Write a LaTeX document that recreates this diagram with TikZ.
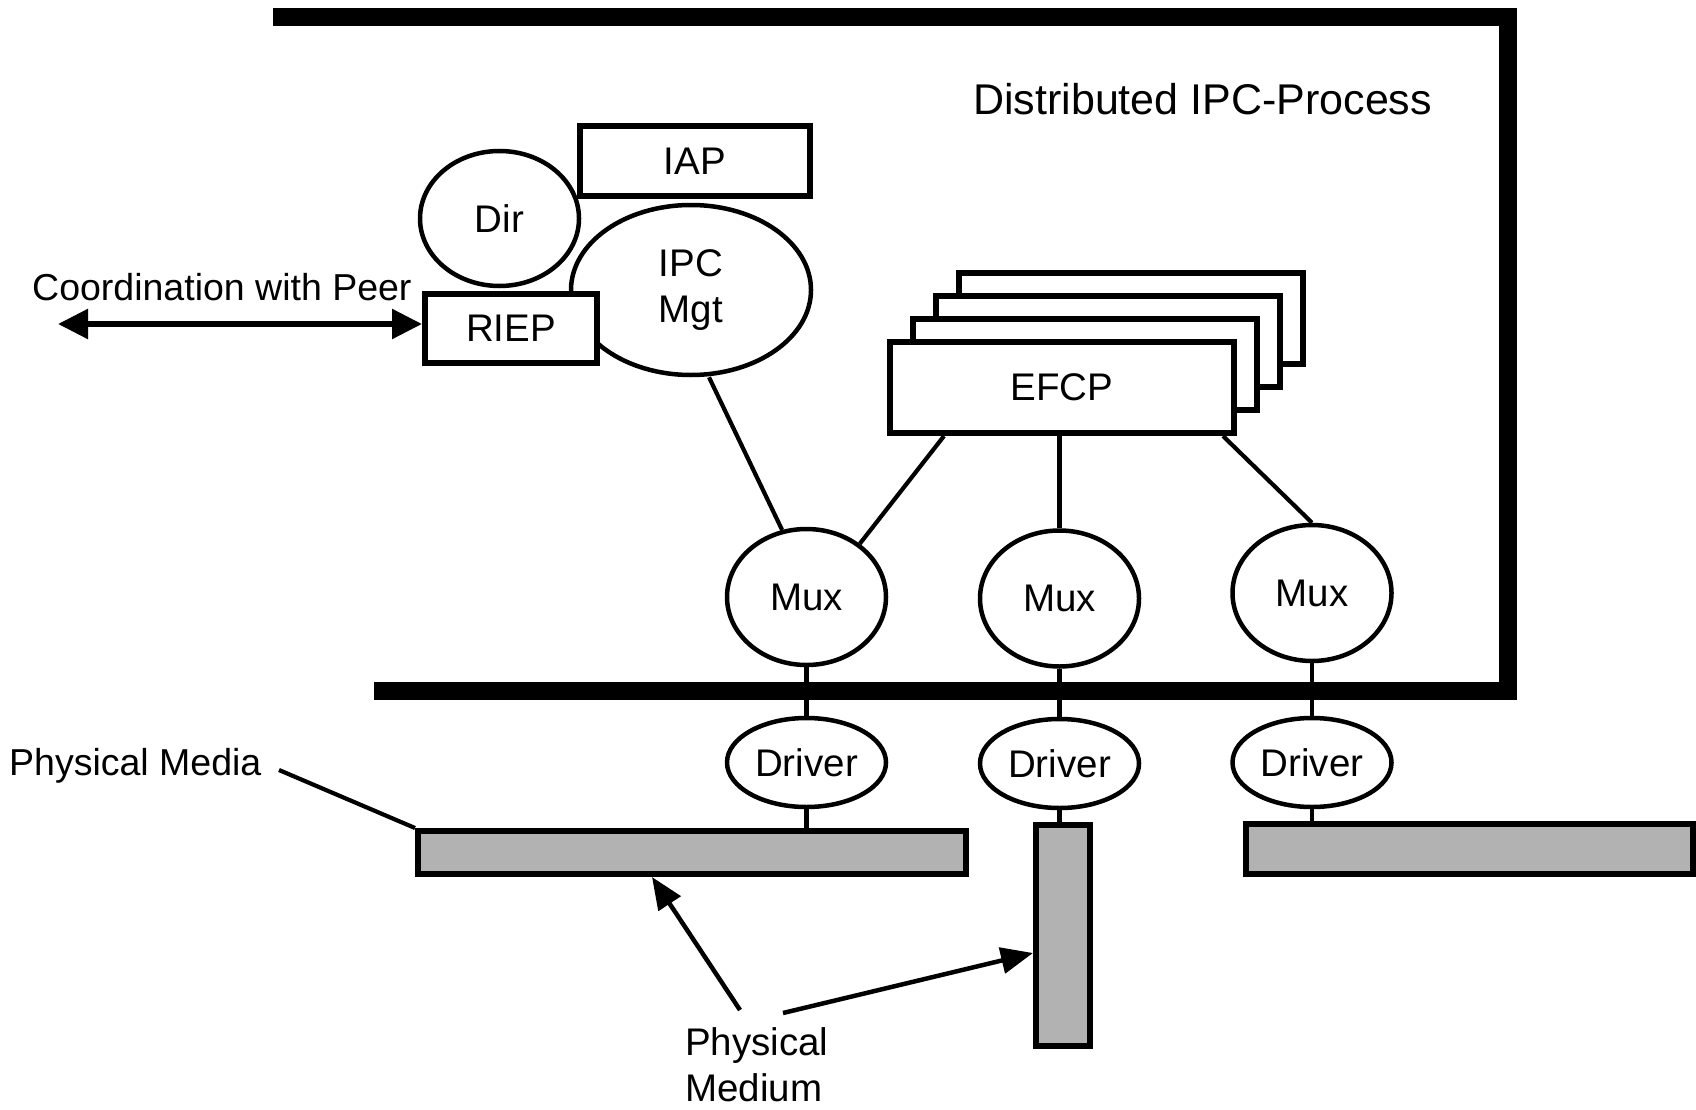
\documentclass[tikz,border=0pt]{standalone}
\usepackage{fontspec}
\setmainfont{Liberation Sans}
\usetikzlibrary{arrows.meta,shapes.geometric}
\begin{document}
\begin{tikzpicture}[x=1pt,y=-1pt,
  txt/.style={font=\fontsize{38.5}{46}\selectfont, inner sep=0pt},
  smalltxt/.style={font=\fontsize{37.5}{46}\selectfont, inner sep=0pt},
  bigtxt/.style={font=\fontsize{43}{50}\selectfont, inner sep=0pt},
  bx/.style={draw, line width=6pt, fill=white, inner sep=0pt, font=\fontsize{38.5}{46}\selectfont},
  ell/.style={draw, ellipse, line width=4.5pt, fill=white, inner sep=0pt, align=center, font=\fontsize{38.5}{46}\selectfont},
  medium/.style={draw, line width=6pt, fill=black!30, inner sep=0pt},
  conn/.style={line width=4.2pt},
  bar/.style={line width=17.5pt, line join=miter},
  pointer/.style={line width=4.5pt, -{Triangle[length=32pt,width=26pt]}},
  dblarrow/.style={line width=5.5pt, {Triangle[length=30pt,width=29pt]}-{Triangle[length=30pt,width=29pt]}},
]
\useasboundingbox (0,0) rectangle (1696,1110);

% process boundary
\draw[bar] (273,17) -- (1508,17) -- (1508,691) -- (374,691);

% labels
\node[bigtxt, anchor=base west] (title) at (973,115) {Distributed IPC-Process};
\node[smalltxt, anchor=base west] (coord) at (32,300) {Coordination with Peer};
\node[smalltxt, anchor=base west] (pmedia) at (9,775) {Physical Media};
\node[txt, anchor=north west, align=left] (pmedium) at (685,1027) {Physical\\Medium};

% management nodes
\node[ell, minimum width=159pt, minimum height=135pt] (dir) at (499.5,218.5) {Dir};
\node[ell, minimum width=240pt, minimum height=170pt] (ipc) at (691,290) {IPC\\Mgt};
\node[bx, minimum width=230pt, minimum height=70pt] (iap) at (695,161) {IAP};
\node[bx, minimum width=172pt, minimum height=69pt] (riep) at (511,328.5) {RIEP};

% EFCP stack
\node[bx, minimum width=344pt, minimum height=91pt] (efcp4) at (1131,318.5) {};
\node[bx, minimum width=344pt, minimum height=91pt] (efcp3) at (1108,341.5) {};
\node[bx, minimum width=344pt, minimum height=91pt] (efcp2) at (1085,364.5) {};
\node[bx, minimum width=344pt, minimum height=91pt] (efcp) at (1062,387.5) {EFCP};

% Mux and drivers
\node[ell, minimum width=159pt, minimum height=136pt] (mux1) at (806.5,597) {Mux};
\node[ell, minimum width=159pt, minimum height=136pt] (mux2) at (1059.5,598.5) {Mux};
\node[ell, minimum width=159pt, minimum height=136pt] (mux3) at (1312,593) {Mux};
\node[ell, minimum width=159pt, minimum height=89pt] (drv1) at (806.5,762.5) {Driver};
\node[ell, minimum width=159pt, minimum height=89pt] (drv2) at (1059.5,763.5) {Driver};
\node[ell, minimum width=159pt, minimum height=89pt] (drv3) at (1312,762.5) {Driver};

% physical media
\node[medium, minimum width=548pt, minimum height=43pt] (m1) at (692,852.5) {};
\node[medium, minimum width=54pt, minimum height=221pt] (m2) at (1063,935.5) {};
\node[medium, minimum width=447pt, minimum height=50pt] (m3) at (1469.5,849) {};

% connectors
\draw[conn] ([xshift=18pt]ipc.south) -- (mux1.110);
\draw[conn] ([xshift=-118pt]efcp.south) -- (mux1.45);
\draw[conn] (efcp.south -| mux2) -- (mux2.north);
\draw[conn] ([xshift=161pt]efcp.south) -- (mux3.north);
\draw[conn] (mux1.south) -- (drv1.north);
\draw[conn] (mux2.south) -- (drv2.north);
\draw[conn] (mux3.south) -- (drv3.north);
\draw[conn] (drv1.south) -- (drv1.south |- m1.north);
\draw[conn] (drv2.south) -- (drv2.south |- m2.north);
\draw[conn] (drv3.south) -- (drv3.south |- m3.north);

% annotations
\coordinate (peer) at (58,324);
\draw[dblarrow] (peer) -- (riep.west |- peer);
\coordinate (pmstart) at (279,770);
\draw[conn] (pmstart) -- (m1.north west);
\coordinate (pma) at (740,1010);
\coordinate (pmb) at (783,1013);
\draw[pointer] (pma) -- ([xshift=-40pt]m1.south);
\draw[pointer] (pmb) -- ([yshift=-17.5pt]m2.west);
\end{tikzpicture}
\end{document}
